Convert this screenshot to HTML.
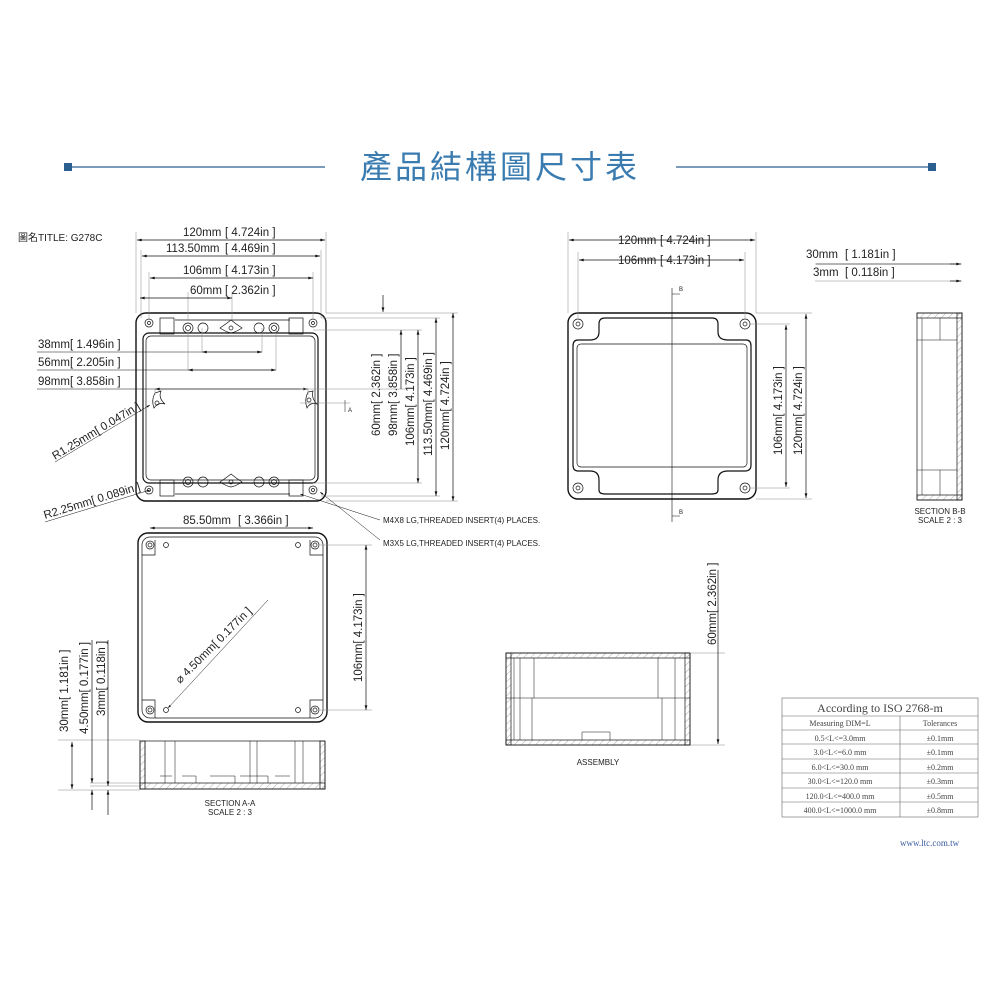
<!DOCTYPE html>
<html><head><meta charset="utf-8"><style>
html,body{margin:0;padding:0;background:#fff;width:1000px;height:1000px;overflow:hidden}
svg{display:block}
svg text{font-family:"Liberation Sans","Noto Sans CJK TC",sans-serif;fill:#222}
.d{font-size:11.5px}
.s{font-size:8px}
svg .t text{font-family:"Liberation Serif","Noto Serif CJK SC",serif;fill:#444}
</style></head><body>
<svg width="1000" height="1000" viewBox="0 0 1000 1000" xmlns="http://www.w3.org/2000/svg">
<defs>
<marker id="a" viewBox="0 0 10 6" refX="10" refY="3" markerWidth="9" markerHeight="4" orient="auto-start-reverse"><path d="M0,0 L10,3 L0,6z" fill="#111"/></marker>
<pattern id="h" width="5" height="5" patternUnits="userSpaceOnUse" patternTransform="rotate(45)"><line x1="0" y1="0" x2="0" y2="5" stroke="#999" stroke-width="0.8"/></pattern>
</defs>

<!-- Title -->
<line x1="68" y1="167" x2="325" y2="167" stroke="#2b5f8f" stroke-width="1.3"/>
<line x1="676" y1="167" x2="932" y2="167" stroke="#2b5f8f" stroke-width="1.3"/>
<rect x="64" y="163" width="8" height="8" fill="#2b5f8f"/>
<rect x="928" y="163" width="8" height="8" fill="#2b5f8f"/>
<text x="500" y="178" text-anchor="middle" style="font-size:32px;fill:#3a7bb0;letter-spacing:3px;font-family:'Noto Sans CJK TC',sans-serif">產品結構圖尺寸表</text>
<text x="18" y="241" style="font-size:10px">圖名TITLE: G278C</text>

<g stroke="#111" fill="none" stroke-width="0.7">
<!-- ===== Left top view ===== -->
<rect x="136" y="313" width="190" height="188" rx="10" stroke-width="1.4"/>
<rect x="143" y="333" width="175" height="150" rx="6" stroke-width="1.2"/>
<rect x="146" y="336" width="169" height="144" rx="5"/>
<path d="M175,320 H290 M175,494 H290"/>
<rect x="160" y="318" width="14" height="16"/><rect x="289" y="318" width="14" height="16"/>
<rect x="160" y="480" width="14" height="16"/><rect x="289" y="480" width="14" height="16"/>
<circle cx="149" cy="323" r="4"/><circle cx="149" cy="323" r="1.5"/>
<circle cx="313" cy="323" r="4"/><circle cx="313" cy="323" r="1.5"/>
<circle cx="149" cy="490" r="4"/><circle cx="149" cy="490" r="1.5"/>
<circle cx="313" cy="490" r="4"/><circle cx="313" cy="490" r="1.5"/>
<circle cx="188" cy="328" r="5"/><circle cx="188" cy="328" r="2.5"/>
<circle cx="203" cy="328" r="5"/>
<circle cx="259" cy="328" r="5"/>
<circle cx="274" cy="328" r="5"/><circle cx="274" cy="328" r="2.5"/>
<circle cx="188" cy="482" r="5"/><circle cx="188" cy="482" r="2.5"/>
<circle cx="203" cy="482" r="5"/>
<circle cx="259" cy="482" r="5"/>
<circle cx="274" cy="482" r="5"/><circle cx="274" cy="482" r="2.5"/>
<path d="M220,328 Q226,324 231,320 Q236,324 242,328 Q236,332 231,333 Q226,332 220,328z"/>
<path d="M220,482 Q226,478 231,474 Q236,478 242,482 Q236,486 231,487 Q226,486 220,482z"/>
<path d="M155,393 Q151,400 154,408 Q158,402 165,404 Q158,398 161,391 Q158,392 155,393z"/>
<path d="M308,392 Q304,400 307,408 Q310,402 317,404 Q311,398 313,391z"/>
<circle cx="157" cy="403" r="2"/><circle cx="309" cy="400" r="2"/>
<circle cx="231" cy="328" r="2"/><circle cx="231" cy="482" r="2"/>

<path d="M136,313 V232 M326,313 V232 M141,318 V250 M321,318 V250 M149,320 V272 M313,320 V272 M188,320 V292 M232,320 V292" stroke="#888" stroke-width="0.5"/>
<line x1="137" y1="240" x2="325" y2="240" marker-start="url(#a)" marker-end="url(#a)"/>
<line x1="142" y1="256" x2="320" y2="256" marker-start="url(#a)" marker-end="url(#a)"/>
<line x1="150" y1="278" x2="313" y2="278" marker-start="url(#a)" marker-end="url(#a)"/>
<line x1="140" y1="298" x2="232" y2="298" marker-start="url(#a)" marker-end="url(#a)"/>
<line x1="37" y1="352" x2="202" y2="352" stroke-width="0.5"/><line x1="202" y1="352" x2="262" y2="352" marker-start="url(#a)" marker-end="url(#a)"/>
<line x1="37" y1="370" x2="188" y2="370" stroke-width="0.5"/><line x1="188" y1="370" x2="276" y2="370" marker-start="url(#a)" marker-end="url(#a)"/>
<line x1="37" y1="389" x2="155" y2="389" stroke-width="0.5"/><line x1="155" y1="389" x2="308" y2="389" marker-start="url(#a)" marker-end="url(#a)"/>
<path d="M202,328 V352 M262,328 V352 M188,330 V370 M276,330 V370 M155,389 V395 M308,389 V395" stroke="#888" stroke-width="0.5"/>
<line x1="55" y1="462" x2="150" y2="405" stroke-width="0.5" marker-end="url(#a)"/>
<line x1="45" y1="522" x2="150" y2="490" stroke-width="0.5" marker-end="url(#a)"/>
<path d="M326,313 H458 M326,501 H458 M321,318 H440 M321,496 H440 M313,330 H422 M313,483 H422 M300,389 H405 M300,403 H350" stroke="#888" stroke-width="0.5"/>
<line x1="383" y1="295" x2="383" y2="312" marker-end="url(#a)"/>
<line x1="401" y1="330" x2="401" y2="389" marker-start="url(#a)"/>
<line x1="418" y1="330" x2="418" y2="483" marker-start="url(#a)" marker-end="url(#a)"/>
<line x1="436" y1="318" x2="436" y2="496" marker-start="url(#a)" marker-end="url(#a)"/>
<line x1="453" y1="313" x2="453" y2="501" marker-start="url(#a)" marker-end="url(#a)"/>
<line x1="345" y1="400" x2="345" y2="412" stroke-width="0.5"/>
<line x1="300" y1="494" x2="380" y2="520" stroke-width="0.5" marker-start="url(#a)"/>
<line x1="320" y1="492" x2="380" y2="540" stroke-width="0.5" marker-start="url(#a)"/>

<!-- ===== Bottom view ===== -->
<rect x="138" y="533" width="189" height="189" rx="10" stroke-width="1.4"/>
<rect x="142" y="537" width="181" height="181" rx="8"/>
<circle cx="150" cy="545" r="4"/><circle cx="150" cy="545" r="2"/>
<circle cx="315" cy="545" r="4"/><circle cx="315" cy="545" r="2"/>
<circle cx="150" cy="710" r="4"/><circle cx="150" cy="710" r="2"/>
<circle cx="315" cy="710" r="4"/><circle cx="315" cy="710" r="2"/>
<circle cx="166" cy="545" r="2.5"/><circle cx="298" cy="545" r="2.5"/>
<circle cx="166" cy="710" r="2.5"/><circle cx="298" cy="710" r="2.5"/>
<path d="M142,555 H155 V540 M323,555 H310 V540 M142,700 H155 V718 M323,700 H310 V718"/>
<line x1="150" y1="528" x2="313" y2="528" marker-start="url(#a)" marker-end="url(#a)"/>
<path d="M320,545 H372 M320,710 H372" stroke="#888" stroke-width="0.5"/>
<line x1="366" y1="545" x2="366" y2="710" marker-start="url(#a)" marker-end="url(#a)"/>
<line x1="268" y1="600" x2="168" y2="708" stroke-width="0.5" marker-end="url(#a)"/>

<path d="M58,740 H140 M58,790 H140 M90,783 H140 M90,786 H140" stroke="#888" stroke-width="0.5"/>
<line x1="72" y1="742" x2="72" y2="789" marker-start="url(#a)" marker-end="url(#a)"/>
<line x1="92" y1="640" x2="92" y2="783" marker-end="url(#a)"/>
<line x1="92" y1="810" x2="92" y2="790" marker-end="url(#a)"/>
<line x1="108" y1="640" x2="108" y2="786" marker-end="url(#a)"/>
<line x1="108" y1="815" x2="108" y2="790" marker-end="url(#a)"/>

<rect x="140" y="741" width="185" height="48" fill="#fff"/>
<rect x="140" y="741" width="5" height="48" fill="url(#h)"/>
<rect x="320" y="741" width="5" height="48" fill="url(#h)"/>
<rect x="140" y="783" width="185" height="6" fill="url(#h)"/>
<path d="M145,741 V783 M320,741 V783 M165,741 V783 M175,741 V783 M250,741 V783 M257,741 V783 M295,741 V783 M303,741 V783" stroke-width="0.5"/>
<path d="M182,776 H196 V783 M210,776 H235 V783 M240,776 H268 V783 M275,776 H290 M160,776 H172" stroke-width="0.5"/>

<!-- ===== Right top view ===== -->
<rect x="568" y="313" width="188" height="186" rx="10" stroke-width="1.4"/>
<path d="M605,318 H712 Q718,318 718,324 V332 Q718,340 728,340 H746 Q751,340 751,346 V465 Q751,471 745,471 H728 Q718,471 718,480 V490 Q718,494 712,494 H605 Q599,494 599,490 V480 Q599,471 590,471 H578 Q573,471 573,465 V346 Q573,340 578,340 H590 Q599,340 599,332 V324 Q599,318 605,318z" stroke-width="1.2"/>
<rect x="577" y="344" width="170" height="123" rx="4"/>
<circle cx="578" cy="324" r="5"/><circle cx="578" cy="324" r="2"/>
<circle cx="745" cy="324" r="5"/><circle cx="745" cy="324" r="2"/>
<circle cx="578" cy="488" r="5"/><circle cx="578" cy="488" r="2"/>
<circle cx="745" cy="488" r="5"/><circle cx="745" cy="488" r="2"/>
<path d="M568,313 V232 M756,313 V232 M578,318 V252 M745,318 V252" stroke="#888" stroke-width="0.5"/>
<line x1="569" y1="240" x2="755" y2="240" marker-start="url(#a)" marker-end="url(#a)"/>
<line x1="579" y1="260" x2="744" y2="260" marker-start="url(#a)" marker-end="url(#a)"/>
<path d="M750,324 H790 M750,488 H790 M756,313 H812 M756,499 H812" stroke="#888" stroke-width="0.5"/>
<line x1="786" y1="325" x2="786" y2="487" marker-start="url(#a)" marker-end="url(#a)"/>
<line x1="806" y1="314" x2="806" y2="498" marker-start="url(#a)" marker-end="url(#a)"/>
<line x1="672" y1="288" x2="672" y2="522" stroke-width="0.6"/>
<path d="M672,294 H680 M672,516 H680" stroke-width="0.5"/>

<path d="M815,264 H962 M815,281 H962" stroke="#888" stroke-width="0.5"/>
<line x1="816" y1="264" x2="960" y2="264" stroke-width="0.6"/>
<line x1="950" y1="264" x2="961" y2="264" marker-end="url(#a)"/>
<line x1="950" y1="281" x2="961" y2="281" marker-end="url(#a)"/>
<rect x="917" y="313" width="45" height="187" fill="#fff"/>
<rect x="957" y="313" width="5" height="187" fill="url(#h)"/>
<rect x="917" y="313" width="45" height="5" fill="url(#h)"/>
<rect x="917" y="495" width="45" height="5" fill="url(#h)"/>
<path d="M922,318 V495 M940,318 V340 M940,470 V495 M917,340 H957 M917,470 H957" stroke-width="0.5"/>

<rect x="506" y="653" width="184" height="92" fill="#fff"/>
<rect x="506" y="653" width="184" height="5" fill="url(#h)"/>
<rect x="506" y="740" width="184" height="5" fill="url(#h)"/>
<rect x="506" y="653" width="5" height="92" fill="url(#h)"/>
<rect x="685" y="653" width="5" height="92" fill="url(#h)"/>
<path d="M506,698 H690 M514,658 V740 M520,658 V740 M534,658 V698 M532,698 V740 M658,658 V698 M662,698 V740 M675,658 V740 M582,732 H610 V740 M582,732 V740" stroke-width="0.5"/>
<path d="M690,653 H725 M690,745 H725" stroke="#888" stroke-width="0.5"/>
<line x1="718" y1="570" x2="718" y2="744" marker-end="url(#a)"/>
</g>

<g class="d">
<text x="183" y="236">120mm</text><text x="225" y="236">[ 4.724in ]</text>
<text x="166" y="252">113.50mm</text><text x="225" y="252">[ 4.469in ]</text>
<text x="183" y="274">106mm</text><text x="225" y="274">[ 4.173in ]</text>
<text x="190" y="294">60mm</text><text x="225" y="294">[ 2.362in ]</text>
<text x="38" y="348">38mm</text><text x="70" y="348">[ 1.496in ]</text>
<text x="38" y="366">56mm</text><text x="70" y="366">[ 2.205in ]</text>
<text x="38" y="385">98mm</text><text x="70" y="385">[ 3.858in ]</text>
<text transform="translate(55,460) rotate(-31)">R1.25mm[ 0.047in ]</text>
<text transform="translate(45,519) rotate(-17)">R2.25mm[ 0.089in ]</text>
<text transform="translate(380,436) rotate(-90)">60mm[ 2.362in ]</text>
<text transform="translate(397,436) rotate(-90)">98mm[ 3.858in ]</text>
<text transform="translate(414,446) rotate(-90)">106mm[ 4.173in ]</text>
<text transform="translate(432,456) rotate(-90)">113.50mm[ 4.469in ]</text>
<text transform="translate(449,450) rotate(-90)">120mm[ 4.724in ]</text>
<text x="183" y="524">85.50mm</text><text x="238" y="524">[ 3.366in ]</text>
<text transform="translate(362,682) rotate(-90)">106mm[ 4.173in ]</text>
<text transform="translate(180,684) rotate(-45)">⌀ 4.50mm[ 0.177in ]</text>
<text transform="translate(68,732) rotate(-90)">30mm[ 1.181in ]</text>
<text transform="translate(88,734) rotate(-90)">4.50mm[ 0.177in ]</text>
<text transform="translate(105,716) rotate(-90)">3mm[ 0.118in ]</text>
<text x="618" y="244">120mm</text><text x="660" y="244">[ 4.724in ]</text>
<text x="618" y="264">106mm</text><text x="660" y="264">[ 4.173in ]</text>
<text transform="translate(782,455) rotate(-90)">106mm[ 4.173in ]</text>
<text transform="translate(802,455) rotate(-90)">120mm[ 4.724in ]</text>
<text x="806" y="258">30mm</text><text x="845" y="258">[ 1.181in ]</text>
<text x="813" y="276">3mm</text><text x="845" y="276">[ 0.118in ]</text>
<text transform="translate(716,645) rotate(-90)">60mm[ 2.362in ]</text>
</g>
<g class="s">
<text x="383" y="523">M4X8 LG,THREADED INSERT(4) PLACES.</text>
<text x="383" y="546">M3X5 LG,THREADED INSERT(4) PLACES.</text>
<text x="230" y="806" text-anchor="middle">SECTION A-A</text>
<text x="230" y="815" text-anchor="middle">SCALE 2 : 3</text>
<text x="940" y="514" text-anchor="middle">SECTION B-B</text>
<text x="940" y="523" text-anchor="middle">SCALE 2 : 3</text>
<text x="598" y="765" text-anchor="middle">ASSEMBLY</text>
<text x="348" y="412" style="font-size:6px">A</text>
<text x="679" y="291" style="font-size:6px">B</text>
<text x="679" y="514" style="font-size:6px">B</text>
</g>

<g stroke="#666" stroke-width="0.6" fill="none">
<rect x="782" y="698" width="196" height="119"/>
<path d="M782,716 H978 M782,730 H978 M782,744 H978 M782,759 H978 M782,773 H978 M782,788 H978 M782,802 H978 M900,716 V817"/>
</g>
<g class="t">
<text x="880" y="712" text-anchor="middle" style="font-size:12px">According to ISO 2768-m</text>
<g style="font-size:8px" text-anchor="middle">
<text x="840" y="726">Measuring  DIM=L</text><text x="940" y="726">Tolerances</text>
<text x="840" y="741">0.5&lt;L&lt;=3.0mm</text><text x="940" y="741">±0.1mm</text>
<text x="840" y="755">3.0&lt;L&lt;=6.0 mm</text><text x="940" y="755">±0.1mm</text>
<text x="840" y="770">6.0&lt;L&lt;=30.0 mm</text><text x="940" y="770">±0.2mm</text>
<text x="840" y="784">30.0&lt;L&lt;=120.0 mm</text><text x="940" y="784">±0.3mm</text>
<text x="840" y="799">120.0&lt;L&lt;=400.0 mm</text><text x="940" y="799">±0.5mm</text>
<text x="840" y="813">400.0&lt;L&lt;=1000.0 mm</text><text x="940" y="813">±0.8mm</text>
</g>
<text x="900" y="846" style="font-size:9px;fill:#3a5aa0">www.ltc.com.tw</text>
</g>
</svg>
</body></html>
